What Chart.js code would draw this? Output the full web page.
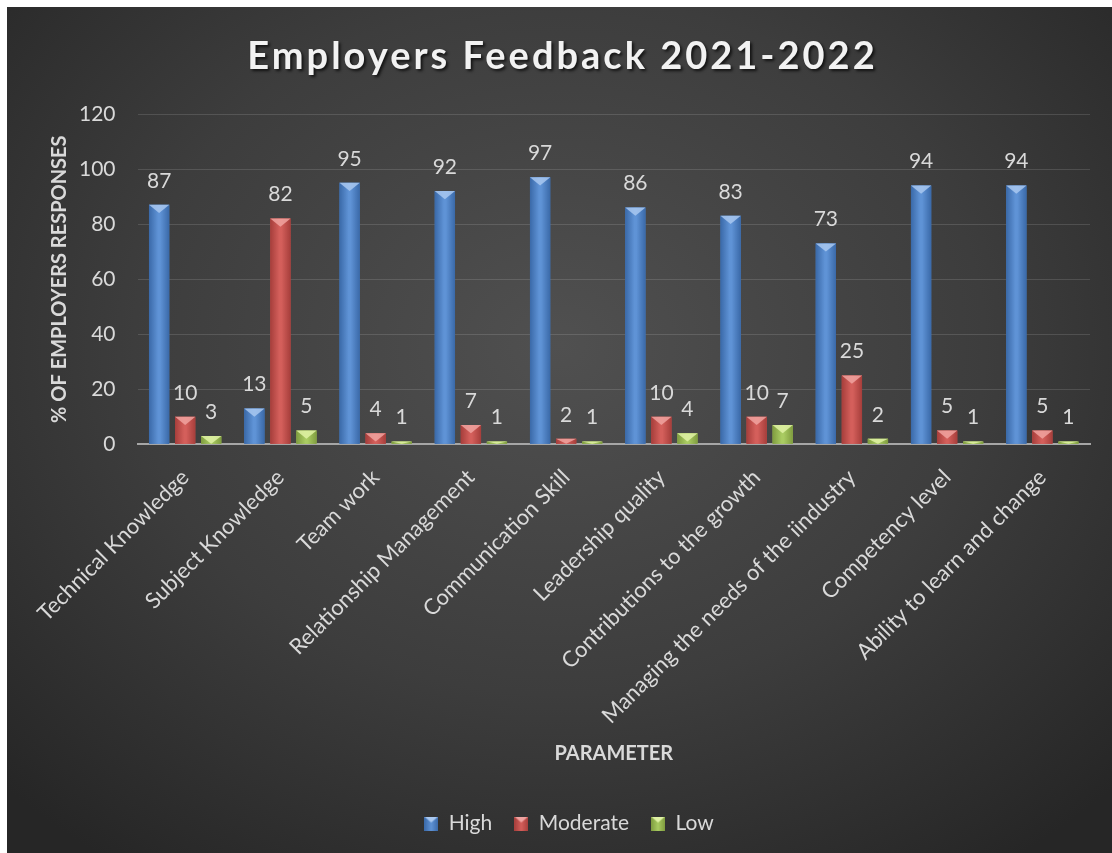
<!DOCTYPE html>
<html>
<head>
<meta charset="utf-8">
<title>Employers Feedback 2021-2022</title>
<script src="https://cdn.jsdelivr.net/npm/chart.js@4.4.0/dist/chart.umd.min.js"></script>
<style>
    html, body { margin: 0; padding: 0; background: #ffffff; }
    #wrap {
        position: absolute; left: 7px; top: 7px; width: 1105px; height: 846px;
        background: radial-gradient(ellipse 70% 75% at 50% 40%, #505050 0%, #3d3d3d 55%, #262626 100%);
    }
</style>
</head>
<body>
<div id="wrap"><canvas id="MyChart"></canvas></div>
<script>
// chart data
var categories = [
    'Technical Knowledge', 'Subject Knowledge', 'Team work', 'Relationship Management',
    'Communication Skill', 'Leadership quality', 'Contributions to the growth',
    'Managing the needs of the iindustry', 'Competency level', 'Ability to learn and change'
];
var highValues = [87, 13, 95, 92, 97, 86, 83, 73, 94, 94];
var moderateValues = [10, 82, 4, 7, 2, 10, 10, 25, 5, 5];
var lowValues = [3, 5, 1, 1, 1, 4, 7, 2, 1, 1];
var yTicks = [0, 20, 40, 60, 80, 100, 120];

var chartTitle = 'Employers Feedback 2021-2022';
var textColor = '#d9d9d9';
var fontFamily = 'Lato, "Open Sans", sans-serif';

// colours for each series: [dark edge, light centre, bevel top]
var shades = {
    High: ['#3a69a8', '#5f93d6', '#a9c8f0'],
    Moderate: ['#a63e3b', '#d45f5b', '#f0a3a0'],
    Low: ['#7f9c3f', '#a9cb62', '#e0f2a6']
};

// small bevelled square used in the legend
function legendIcon(s) {
    var c = document.createElement('canvas');
    c.width = 14; c.height = 14;
    var x = c.getContext('2d');
    var g = x.createLinearGradient(0, 0, 14, 0);
    g.addColorStop(0, s[0]);
    g.addColorStop(0.5, s[1]);
    g.addColorStop(1, s[0]);
    x.fillStyle = g;
    x.fillRect(0, 0, 14, 14);
    x.beginPath();
    x.moveTo(0, 0);
    x.lineTo(14, 0);
    x.lineTo(7, 6);
    x.closePath();
    x.fillStyle = s[2];
    x.fill();
    return c;
}

// draws the title with spacing and shadow
var titlePlugin = {
    id: 'fancyTitle',
    afterDraw: function (chart) {
        var ctx = chart.ctx;
        ctx.save();
        ctx.font = 'bold 38px ' + fontFamily;
        ctx.letterSpacing = '3px';
        ctx.textAlign = 'center';
        ctx.textBaseline = 'middle';
        ctx.shadowColor = 'rgba(0,0,0,0.7)';
        ctx.shadowOffsetX = 2;
        ctx.shadowOffsetY = 2;
        ctx.shadowBlur = 3;
        ctx.fillStyle = '#f2f2f2';
        ctx.fillText(chartTitle, chart.width / 2 + 3, 50);
        ctx.restore();
    }
};

// gradient shading, bevel on top and value labels
var barLookPlugin = {
    id: 'barLook',
    afterDatasetsDraw: function (chart) {
        var ctx = chart.ctx;
        chart.data.datasets.forEach(function (ds, di) {
            var meta = chart.getDatasetMeta(di);
            var s = shades[ds.label];
            meta.data.forEach(function (bar, i) {
                var p = bar.getProps(['x', 'y', 'base', 'width'], true);
                var left = p.x - p.width / 2, right = p.x + p.width / 2;
                var h = p.base - p.y;
                ctx.save();
                var g = ctx.createLinearGradient(left, 0, right, 0);
                g.addColorStop(0, s[0]);
                g.addColorStop(0.45, s[1]);
                g.addColorStop(0.55, s[1]);
                g.addColorStop(1, s[0]);
                ctx.fillStyle = g;
                ctx.fillRect(left, p.y, p.width, h);
                // bevel triangle
                var th = Math.min(p.width * 0.4, h);
                ctx.beginPath();
                ctx.moveTo(left, p.y);
                ctx.lineTo(right, p.y);
                ctx.lineTo(p.x, p.y + th);
                ctx.closePath();
                ctx.fillStyle = s[2];
                ctx.globalAlpha = 0.85;
                ctx.fill();
                ctx.globalAlpha = 1;
                ctx.restore();

                ctx.save();
                ctx.font = '21px ' + fontFamily;
                ctx.fillStyle = textColor;
                ctx.textAlign = 'center';
                ctx.textBaseline = 'middle';
                ctx.fillText(ds.data[i], p.x, p.y - 24);
                ctx.restore();
            });
        });
    }
};

var ctx = document.getElementById('MyChart').getContext('2d');
var MyChart = new Chart(ctx, {
    type: 'bar',
    data: {
        labels: categories,
        datasets: [{
            label: 'High',
            data: highValues,
            backgroundColor: '#4a7ebf',
            pointStyle: legendIcon(shades.High)
        }, {
            label: 'Moderate',
            data: moderateValues,
            backgroundColor: '#c0504d',
            pointStyle: legendIcon(shades.Moderate)
        }, {
            label: 'Low',
            data: lowValues,
            backgroundColor: '#9bbb59',
            pointStyle: legendIcon(shades.Low)
        }]
    },
    options: {
        responsive: true,
        maintainAspectRatio: false,
        animation: false,
        categoryPercentage: 0.82,
        barPercentage: 0.78,
        layout: {
            padding: { top: 107, left: 41, right: 22, bottom: 9 }
        },
        plugins: {
            title: { display: false },
            tooltip: { enabled: false },
            legend: {
                position: 'bottom',
                labels: {
                    color: textColor,
                    usePointStyle: true,
                    pointStyleWidth: 14,
                    boxWidth: 14,
                    boxHeight: 14,
                    padding: 22,
                    font: { family: fontFamily, size: 21 }
                }
            }
        },
        scales: {
            x: {
                grid: { display: false },
                border: { display: true, color: '#a6a6a6', width: 2 },
                afterFit: function (scale) {
                    // let the slanted labels hang out to the left
                    scale.paddingLeft = 0;
                    scale.paddingRight = 0;
                },
                ticks: {
                    color: textColor,
                    minRotation: 45,
                    maxRotation: 45,
                    padding: 12,
                    font: { family: fontFamily, size: 22 }
                },
                title: {
                    display: true,
                    text: 'PARAMETER',
                    color: textColor,
                    padding: { top: 1, bottom: 25 },
                    font: { family: fontFamily, size: 20, weight: 'bold' }
                }
            },
            y: {
                min: yTicks[0],
                max: yTicks[yTicks.length - 1],
                grid: { color: 'rgba(255,255,255,0.13)', drawTicks: false },
                border: { display: false },
                afterFit: function (scale) {
                    // tick padding is counted twice in the width
                    scale.width -= 22;
                },
                ticks: {
                    stepSize: yTicks[1] - yTicks[0],
                    color: textColor,
                    padding: 22,
                    font: { family: fontFamily, size: 21 }
                },
                title: {
                    display: true,
                    text: '% OF EMPLOYERS RESPONSES',
                    color: textColor,
                    padding: { top: 0, bottom: 7 },
                    font: { family: fontFamily, size: 20, weight: 'bold' }
                }
            }
        }
    },
    plugins: [barLookPlugin, titlePlugin]
});
</script>
</body>
</html>
